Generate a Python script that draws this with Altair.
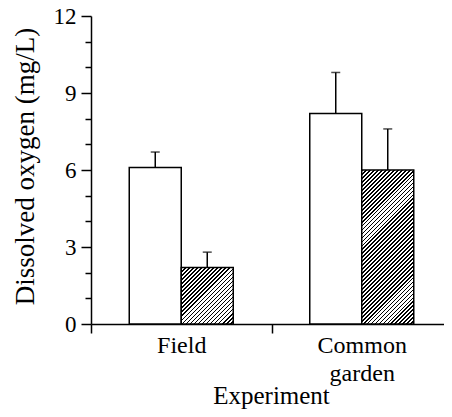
import altair as alt
import pandas as pd

groups = ["Field", "Common garden"]
treatments = ["Open", "Hatched"]
field_means = [6.1, 2.2]
field_upper = [6.7, 2.8]
garden_means = [8.2, 6.0]
garden_upper = [9.8, 7.6]
y_ticks = [0, 1, 2, 3, 4, 5, 6, 7, 8, 9, 10, 11, 12]

rows = []
for g, ms, us in [(groups[0], field_means, field_upper), (groups[1], garden_means, garden_upper)]:
    for t, m, u in zip(treatments, ms, us):
        rows.append({"group": g, "treatment": t, "mean": m, "upper": u})
df = pd.DataFrame(rows)

VIEW_W = 353
RANGE_W = 361
H = 308
YMAX = 12
BAR_W = 52.0
FONT = "Liberation Serif"


def hatch(value, period=4.0, frac=0.45):
    w = BAR_W
    h = value / YMAX * H
    n = max(1, round((w + h) / period))
    a = (w + h) * w / (w * w + h * h)
    b = (w + h) * h / (w * w + h * h)
    stops = []
    for k in range(n):
        s, m, e = k / n, (k + frac) / n, (k + 1) / n
        stops += [
            alt.GradientStop(offset=s, color="black"),
            alt.GradientStop(offset=m, color="black"),
            alt.GradientStop(offset=m, color="white"),
            alt.GradientStop(offset=e, color="white"),
        ]
    return alt.LinearGradient(gradient="linear", stops=stops, x1=0, y1=0, x2=a, y2=b)


x_enc = alt.X(
    "group:N",
    sort=groups,
    scale=alt.Scale(paddingInner=0, paddingOuter=0, range=[0, RANGE_W]),
    title="Experiment",
    axis=alt.Axis(
        labelAngle=0,
        tickBand="extent",
        tickSize=9,
        tickWidth=1.5,
        tickColor="black",
        domainColor="black",
        domainWidth=1.5,
        labelFont=FONT,
        labelFontSize=24,
        labelColor="black",
        labelPadding=0,
        labelLineHeight=28,
        labelExpr="datum.label == 'Common garden' ? ['Common', 'garden'] : datum.label",
        titleFont=FONT,
        titleFontSize=25,
        titleFontWeight="normal",
        titleColor="black",
        titleBaseline="alphabetic",
        titleX=180,
        titleY=79,
    ),
)
xo_enc = alt.XOffset(
    "treatment:N", sort=treatments,
    scale=alt.Scale(paddingInner=0, paddingOuter=(RANGE_W / 2 / BAR_W - 2) / 2),
)
y_axis = alt.Axis(
    values=y_ticks,
    grid=False,
    labelExpr="datum.value % 3 === 0 ? datum.label : ''",
    tickSize={"condition": {"test": "datum.value % 3 === 0", "value": 10}, "value": 6},
    tickWidth=1.5,
    tickColor="black",
    domainColor="black",
    domainWidth=1.5,
    labelFont=FONT,
    labelFontSize=23,
    labelColor="black",
    labelPadding=5,
    titleFont=FONT,
    titleFontSize=27,
    titleFontWeight="normal",
    titleColor="black",
    titleAngle=-90,
    titleAlign="center",
    titleBaseline="middle",
    titleX=-66,
    titleY=150,
)
y_scale = alt.Scale(domain=[0, YMAX], nice=False, zero=True)
TITLE_Y = "Dissolved oxygen (mg/L)"

base = alt.Chart(df)

white = base.transform_filter(alt.datum.treatment == treatments[0]).mark_bar(
    fill="white", stroke="black", strokeWidth=1.5
).encode(
    x=x_enc, xOffset=xo_enc,
    y=alt.Y("mean:Q", scale=y_scale, axis=y_axis, title=TITLE_Y),
)

hatched_layers = []
for g, v in [(groups[0], field_means[1]), (groups[1], garden_means[1])]:
    hatched_layers.append(
        base.transform_filter(
            (alt.datum.treatment == treatments[1]) & (alt.datum.group == g)
        ).mark_bar(fill=hatch(v), stroke="black", strokeWidth=1.5).encode(
            x=x_enc, xOffset=xo_enc,
            y=alt.Y("mean:Q", scale=y_scale, axis=y_axis, title=TITLE_Y),
        )
    )

err = base.mark_rule(color="black", strokeWidth=1.5).encode(
    x=x_enc, xOffset=xo_enc,
    y=alt.Y("mean:Q", scale=y_scale, axis=y_axis, title=TITLE_Y),
    y2="upper:Q",
)
cap = base.mark_tick(color="black", thickness=1.5, size=9, orient="horizontal").encode(
    x=x_enc, xOffset=xo_enc,
    y=alt.Y("upper:Q", scale=y_scale, axis=y_axis, title=TITLE_Y),
)

chart = alt.layer(white, *hatched_layers, err, cap).properties(
    width=VIEW_W, height=H,
    background="white",
    autosize=alt.AutoSizeParams(type="none"),
    padding={"left": 83, "top": 8, "right": 0, "bottom": 85},
).configure_view(strokeWidth=0)

chart.save("out.html", embed_options={"renderer": "svg", "actions": False})
